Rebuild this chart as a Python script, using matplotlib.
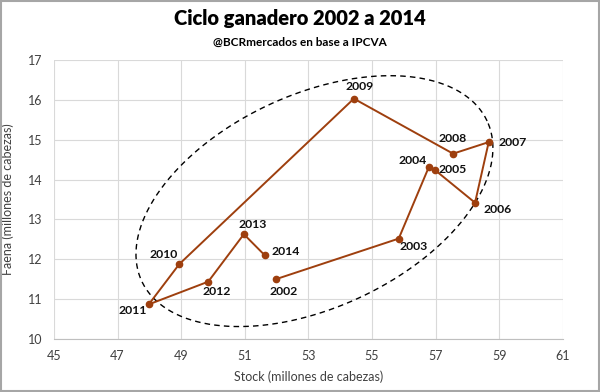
import numpy as np
import matplotlib
matplotlib.use('Agg')
import matplotlib.pyplot as plt

# datos (stock y faena, millones de cabezas)
years = ['2002', '2003', '2004', '2005', '2006', '2007', '2008',
         '2009', '2010', '2011', '2012', '2013', '2014']
stock = [51.97, 55.84, 56.79, 56.98, 58.24, 58.67, 57.55,
         54.43, 48.94, 47.98, 49.85, 50.97, 51.63]
faena = [11.50, 12.52, 14.32, 14.24, 13.42, 14.94, 14.65,
         16.03, 11.88, 10.87, 11.44, 12.63, 12.10]

# desplazamiento de las etiquetas (pixeles, derecha / abajo)
label_dx = [8, 15, -16, 18, 23, 24, 0, 6, -16, -16, 8, 9, 21]
label_dy = [12, 8, -6, -1, 7, 0, -15, -12, -10, 6, 10, -10, -4]

plt.rcParams['font.family'] = ['Lato', 'DejaVu Sans']

fig = plt.figure(figsize=(6, 3.92), dpi=100)
ax = fig.add_axes([0.09, 0.135, 0.848, 0.712])

line_color = '#9E3F0E'
ax.plot(stock, faena, color=line_color, lw=1.4, marker='o', ms=4.5, zorder=3)

for yr, x, y, dx, dy in zip(years, stock, faena, label_dx, label_dy):
    ax.annotate(yr, (x, y), xytext=(dx * 0.72, -dy * 0.72), textcoords='offset points',
                ha='center', va='center', fontsize=8.8, fontweight='bold', color='#111111')

# elipse punteada
t = np.linspace(0, 2 * np.pi, 300)
cx, cy = 53.19, 13.46
ex = cx + 5.43 * np.cos(t) - 1.42 * np.sin(t)
ey = cy + 2.01 * np.cos(t) + 2.42 * np.sin(t)
ax.plot(ex, ey, color='black', lw=1.0, ls=(0, (4, 3)), zorder=2)

ax.set_xlim(45, 61)
ax.set_ylim(10, 17)
ax.set_xticks(range(45, 62, 2))
ax.set_yticks(range(10, 18))
ax.grid(True, color='#d9d9d9', lw=0.8)
ax.set_axisbelow(True)
for s in ['top', 'right', 'left']:
    ax.spines[s].set_visible(False)
ax.spines['bottom'].set_color('#bfbfbf')
ax.tick_params(length=0, labelsize=9, colors='#404040', pad=8)

ax.set_xlabel('Stock (millones de cabezas)', fontsize=9, color='#404040', labelpad=6)
ax.set_ylabel('Faena (millones de cabezas)', fontsize=9, color='#404040', labelpad=10)

fig.text(0.5, 0.952, 'Ciclo ganadero 2002 a 2014', ha='center', va='center',
         fontsize=14.5, fontweight='heavy', color='black')
fig.text(0.5, 0.893, '@BCRmercados en base a IPCVA', ha='center', va='center',
         fontsize=8.5, fontweight='bold', color='black')

fig.patches.append(plt.Rectangle((0.002, 0.002), 0.996, 0.996, transform=fig.transFigure,
                                 fill=False, edgecolor='#a6a6a6', lw=1.5))

fig.savefig('out.png', dpi=100)
